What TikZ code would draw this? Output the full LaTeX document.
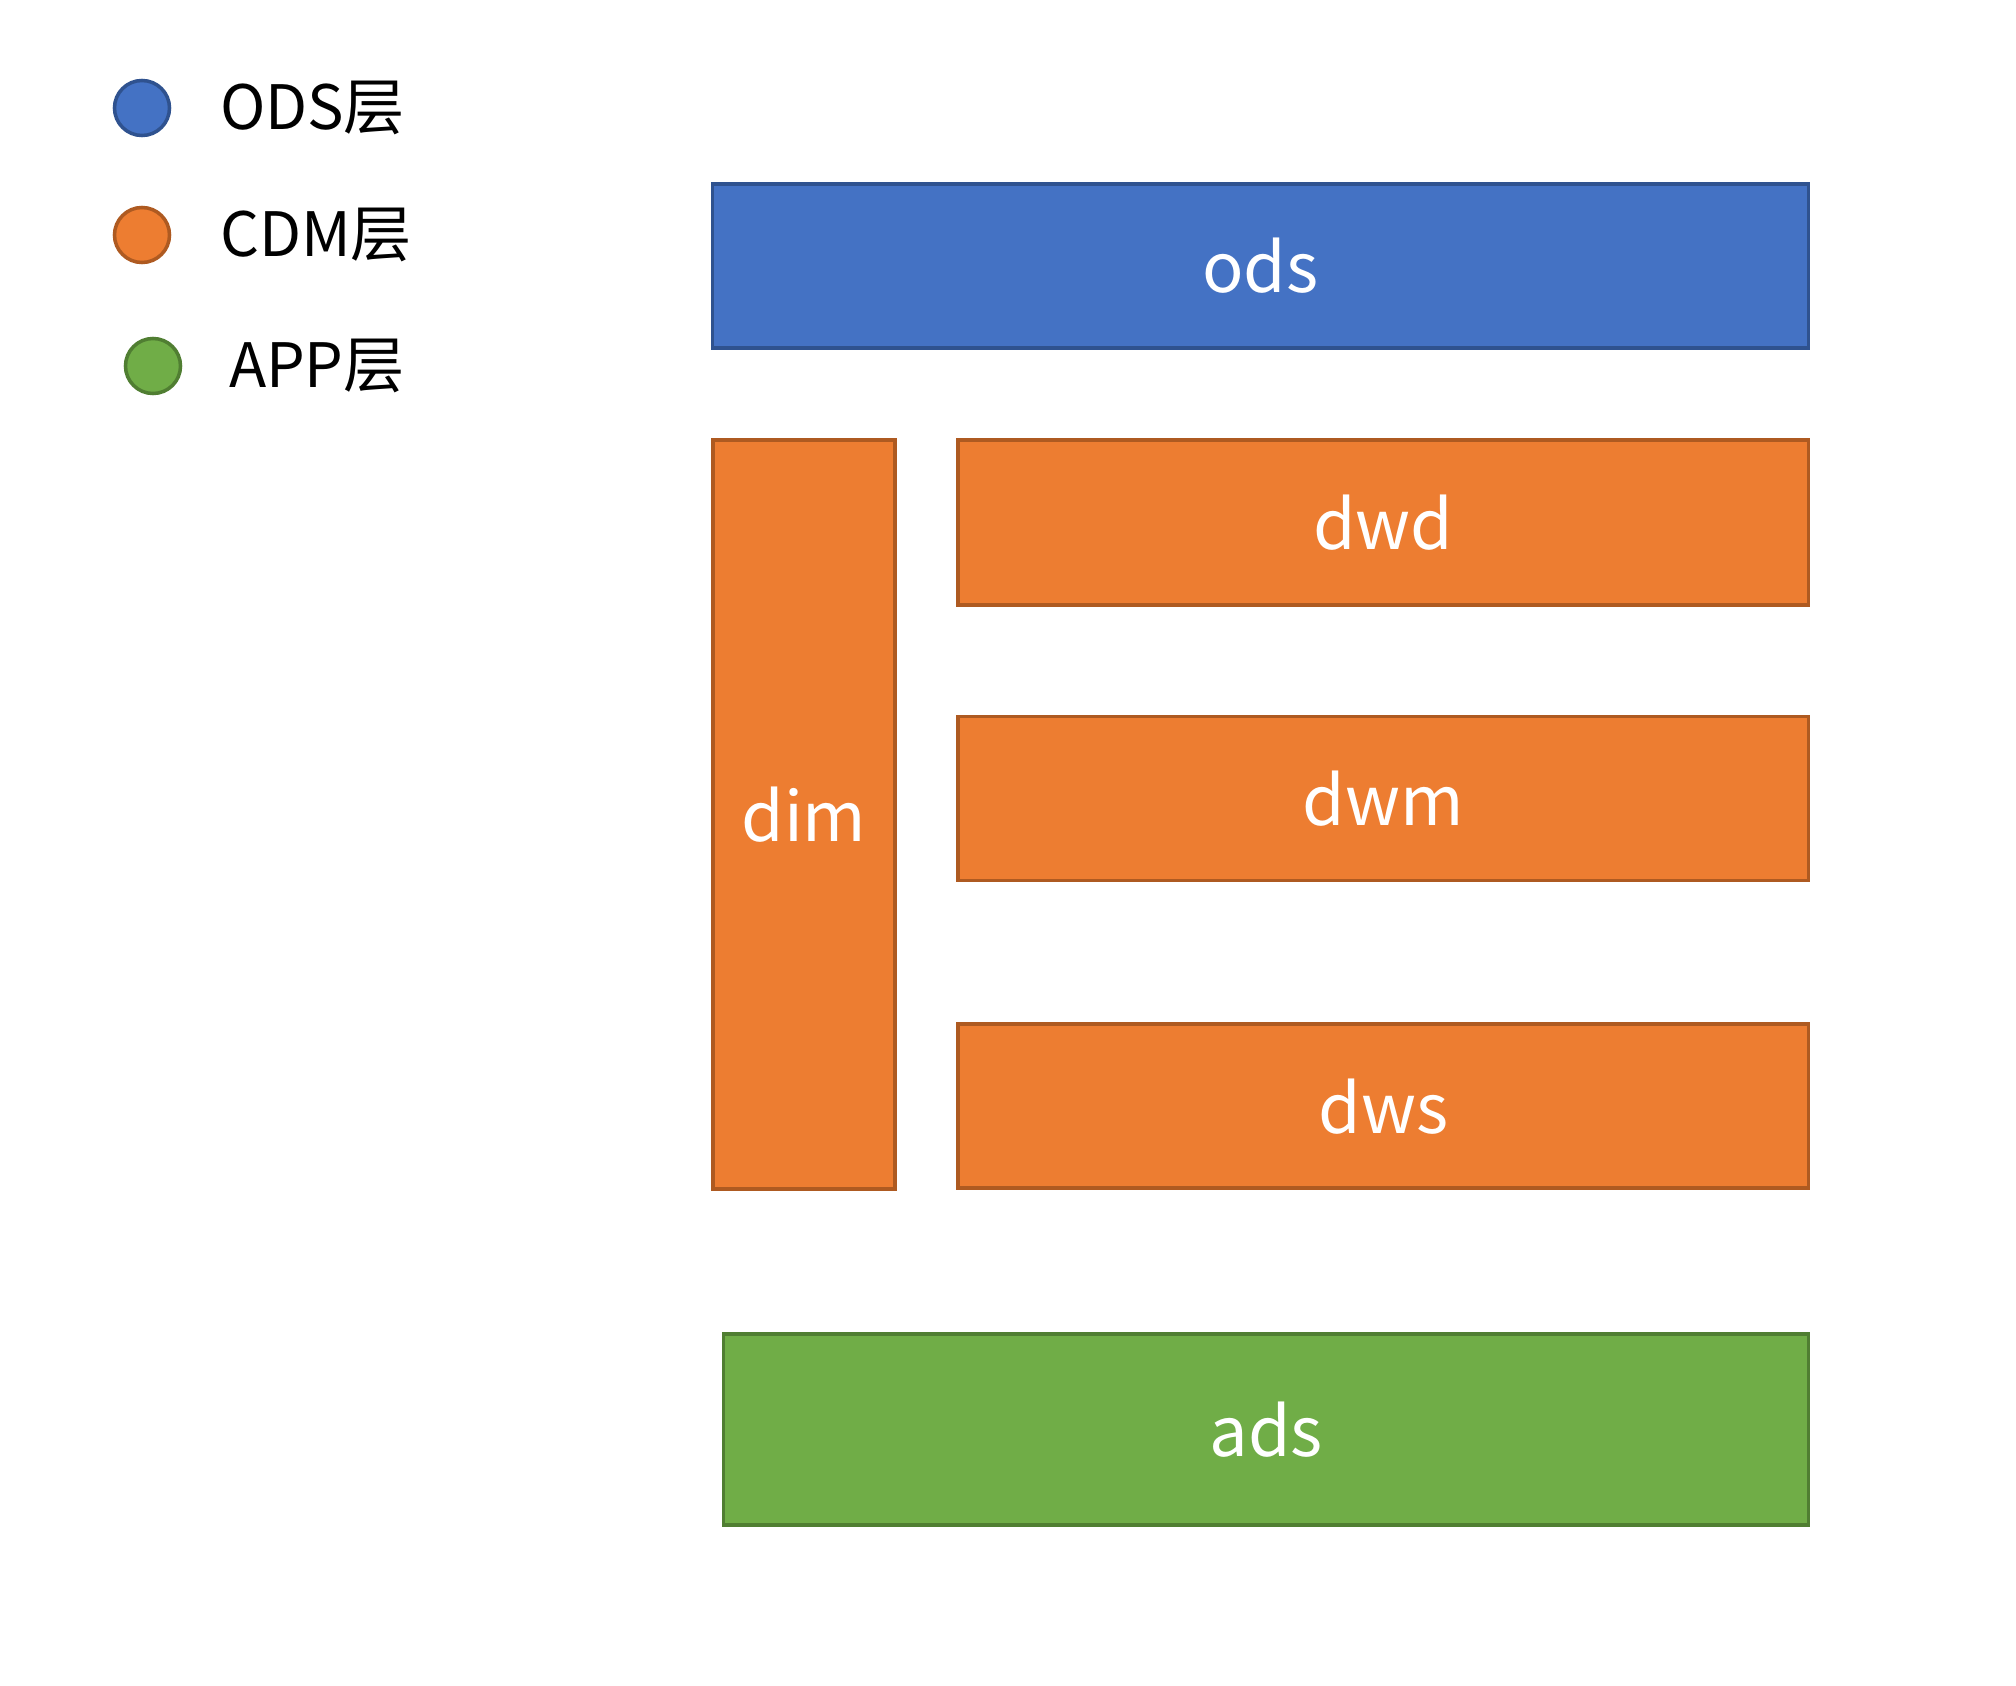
\documentclass[tikz,border=0pt]{standalone}
\usepackage{fontspec}
\setmainfont{Noto Sans CJK SC}
\usetikzlibrary{positioning}
\definecolor{odsfill}{HTML}{4472C4}
\definecolor{odsline}{HTML}{2F528F}
\definecolor{cdmfill}{HTML}{ED7D31}
\definecolor{cdmline}{HTML}{AE5A21}
\definecolor{appfill}{HTML}{70AD47}
\definecolor{appline}{HTML}{507E32}
\begin{document}
\begin{tikzpicture}[x=0.01cm, y=-0.01cm,
	layer/.style={draw, line width=1pt, inner sep=0pt, outer sep=0pt, text=white, font=\fontsize{19.5}{23}\selectfont},
	dot/.style={draw, circle, line width=1pt, minimum size=0.55cm, inner sep=0pt},
	legend/.style={font=\fontsize{17.4}{21}\selectfont, inner sep=0pt}]
				\useasboundingbox (0,0) rectangle (2016,1685);
				% legend
				\node[dot, fill=odsfill, draw=odsline] (odsdot) at (142,108) {};
				\node[dot, fill=cdmfill, draw=cdmline] (cdmdot) at (142,235) {};
				\node[dot, fill=appfill, draw=appline] (appdot) at (153,366) {};
				\node[legend, right=0.48cm of odsdot] (odstext) {ODS层};
				\node[legend, right=0.48cm of cdmdot] (cdmtext) {CDM层};
				\node[legend, right=0.46cm of appdot] (apptext) {APP层};
				% layers
				\node[layer, fill=odsfill, draw=odsline, minimum width=10.95cm, minimum height=1.64cm] (ods) at (1260.5,266) {ods};
				\node[layer, fill=cdmfill, draw=cdmline, minimum width=1.82cm, minimum height=7.49cm] (dim) at (804,814.5) {dim};
				\node[layer, fill=cdmfill, draw=cdmline, minimum width=8.5cm, minimum height=1.65cm, right=0.63cm of dim.north east, anchor=north west] (dwd) {dwd};
				\node[layer, fill=cdmfill, draw=cdmline, minimum width=8.5cm, minimum height=1.64cm, below=1.115cm of dwd] (dwm) {dwm};
				\node[layer, fill=cdmfill, draw=cdmline, minimum width=8.5cm, minimum height=1.64cm, below=1.435cm of dwm] (dws) {dws};
				\node[layer, fill=appfill, draw=appline, minimum width=10.84cm, minimum height=1.91cm] (ads) at (1266,1429.5) {ads};
			\end{tikzpicture}
\end{document}
